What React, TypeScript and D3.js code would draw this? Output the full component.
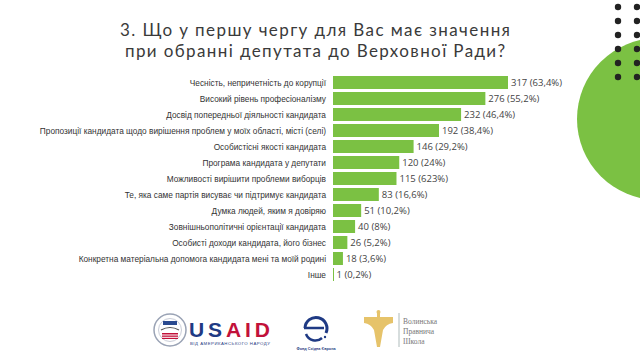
import React from "react";
import * as d3 from "d3";

const categories = [
  "Чесність, непричетність  до корупції",
  "Високий рівень професіоналізму",
  "Досвід попередньої діяльності кандидата",
  "Пропозиції кандидата щодо вирішення проблем у моїх області, місті (селі)",
  "Особистісні якості кандидата",
  "Програма кандидата у депутати",
  "Можливості вирішити проблеми виборців",
  "Те, яка саме партія висуває чи підтримує кандидата",
  "Думка людей, яким я довіряю",
  "Зовнішньополітичні орієнтації  кандидата",
  "Особисті доходи кандидата, його бізнес",
  "Конкретна матеріальна допомога кандидата мені та моїй родині",
  "Інше",
];
const values = [317, 276, 232, 192, 146, 120, 115, 83, 51, 40, 26, 18, 1];
const valueLabels = [
  "317 (63,4%)",
  "276 (55,2%)",
  "232 (46,4%)",
  "192 (38,4%)",
  "146 (29,2%)",
  "120 (24%)",
  "115 (623%)",
  "83 (16,6%)",
  "51 (10,2%)",
  "40 (8%)",
  "26 (5,2%)",
  "18 (3,6%)",
  "1 (0,2%)",
];
const titleLines = [
  "3. Що у першу чергу для Вас має значення",
  "при обранні депутата до Верховної Ради?",
];
const dotRows = [0, 1, 2, 3, 4, 5];
const dotCols = [0, 1];

const W = 640;
const H = 351;
const GREEN = "#7bc143";

export default function App() {
  const x = d3.scaleLinear().domain([0, 317]).range([333, 508]);
  const y = d3
    .scaleBand<string>()
    .domain(categories)
    .range([73, 73 + 16 * (categories.length + 0.1875)])
    .padding(0.1875);

  const dotX = d3.scaleLinear().domain([0, 1]).range([618, 637]);
  const dotY = d3.scaleLinear().domain([0, 5]).range([7, 77]);

  return (
    <svg
      width={W}
      height={H}
      style={{ position: "absolute", left: 0, top: 0, background: "#fff" }}
    >
      {/* decoration */}
      <circle cx={658} cy={119} r={81} fill={GREEN} />
      {dotRows.map((r) =>
        dotCols.map((c) => (
          <circle key={`${r}-${c}`} cx={dotX(c)} cy={dotY(r)} r={3.2} fill="#222" />
        ))
      )}

      {/* title */}
      {titleLines.map((t, i) => (
        <text
          key={i}
          x={315}
          y={36 + i * 20.5}
          textAnchor="middle"
          fontFamily="Lato, 'Open Sans', sans-serif"
          fontSize={17}
          fill="#3a3a3a"
          textLength={i === 0 ? 390 : 380}
        >
          {t}
        </text>
      ))}

      {/* bars */}
      {categories.map((c, i) => (
        <g key={c}>
          <text
            x={326}
            y={(y(c) as number) + y.bandwidth() / 2 + 3}
            textAnchor="end"
            fontFamily="'Liberation Sans', Arial, sans-serif"
            fontSize={8.3}
            fill="#333"
          >
            {c}
          </text>
          <rect
            x={x(0)}
            y={y(c)}
            width={Math.max(x(values[i]) - x(0), 1)}
            height={y.bandwidth()}
            fill={GREEN}
          />
          <text
            x={x(values[i]) + 3}
            y={(y(c) as number) + y.bandwidth() / 2 + 3.3}
            fontFamily="'Open Sans', sans-serif"
            fontSize={9.5}
            fill="#444"
          >
            {valueLabels[i]}
          </text>
        </g>
      ))}

      {/* logos */}
      <g>
        <circle cx={170} cy={330} r={16} fill="#fff" stroke="#9aa3b5" strokeWidth={1.5} />
        <circle cx={170} cy={330} r={11.5} fill="none" stroke="#c9cdd8" strokeWidth={1} />
        <rect x={163} y={321} width={14} height={4} fill="#2a4a8f" />
        <rect x={162} y={333} width={16} height={6} fill="#c2113a" />
        <rect x={162} y={334.5} width={16} height={1} fill="#fff" />
        <rect x={162} y={336.8} width={16} height={1} fill="#fff" />
        <path d="M161 330 Q170 325 179 330" stroke="#555" strokeWidth={1.2} fill="none" />
        <text
          x={189}
          y={337}
          fontFamily="'Liberation Sans', Arial, sans-serif"
          fontWeight="bold"
          fontSize={21}
          fill="#1f3a84"
          textLength={81}
        >
          US<tspan fill="#c2113a">AID</tspan>
        </text>
        <text
          x={190}
          y={345}
          fontFamily="'Liberation Sans', Arial, sans-serif"
          fontSize={4.3}
          fill="#1f3a84"
          textLength={80}
        >
          ВІД АМЕРИКАНСЬКОГО НАРОДУ
        </text>
      </g>
      <g>
        <path
          d="M305 328 A11 11 0 1 1 326 333"
          fill="none"
          stroke="#1f3a84"
          strokeWidth={3}
        />
        <path d="M304 328 L324 328" stroke="#1f3a84" strokeWidth={2.5} />
        <path d="M306 334 A10 10 0 0 0 322 338" fill="none" stroke="#1f3a84" strokeWidth={2.5} />
        <circle cx={325} cy={337} r={1.2} fill="#1f3a84" />
        <text
          x={316}
          y={349.5}
          textAnchor="middle"
          fontFamily="'Liberation Sans', Arial, sans-serif"
          fontSize={3.8}
          fontWeight="bold"
          fill="#1f3a84"
        >
          Фонд Східна Європа
        </text>
      </g>
      <g>
        <path
          d="M364 317 L393 317 L393 323 Q386 324 383 330 L380 347 L377 347 L374 330 Q371 324 364 323 Z"
          fill="#e6c36a"
        />
        <rect x={377} y={312} width={3} height={8} fill="#e6c36a" />
        <circle cx={378.5} cy={312} r={2} fill="#e6c36a" />
        <line x1={399} y1={313} x2={399} y2={347} stroke="#9aa" strokeWidth={0.8} />
        {["Волинська", "Правнича", "Школа"].map((t, i) => (
          <text
            key={t}
            x={403}
            y={324 + i * 10}
            fontFamily="'Liberation Serif', serif"
            fontSize={7.5}
            fill="#777"
          >
            {t}
          </text>
        ))}
      </g>
    </svg>
  );
}
